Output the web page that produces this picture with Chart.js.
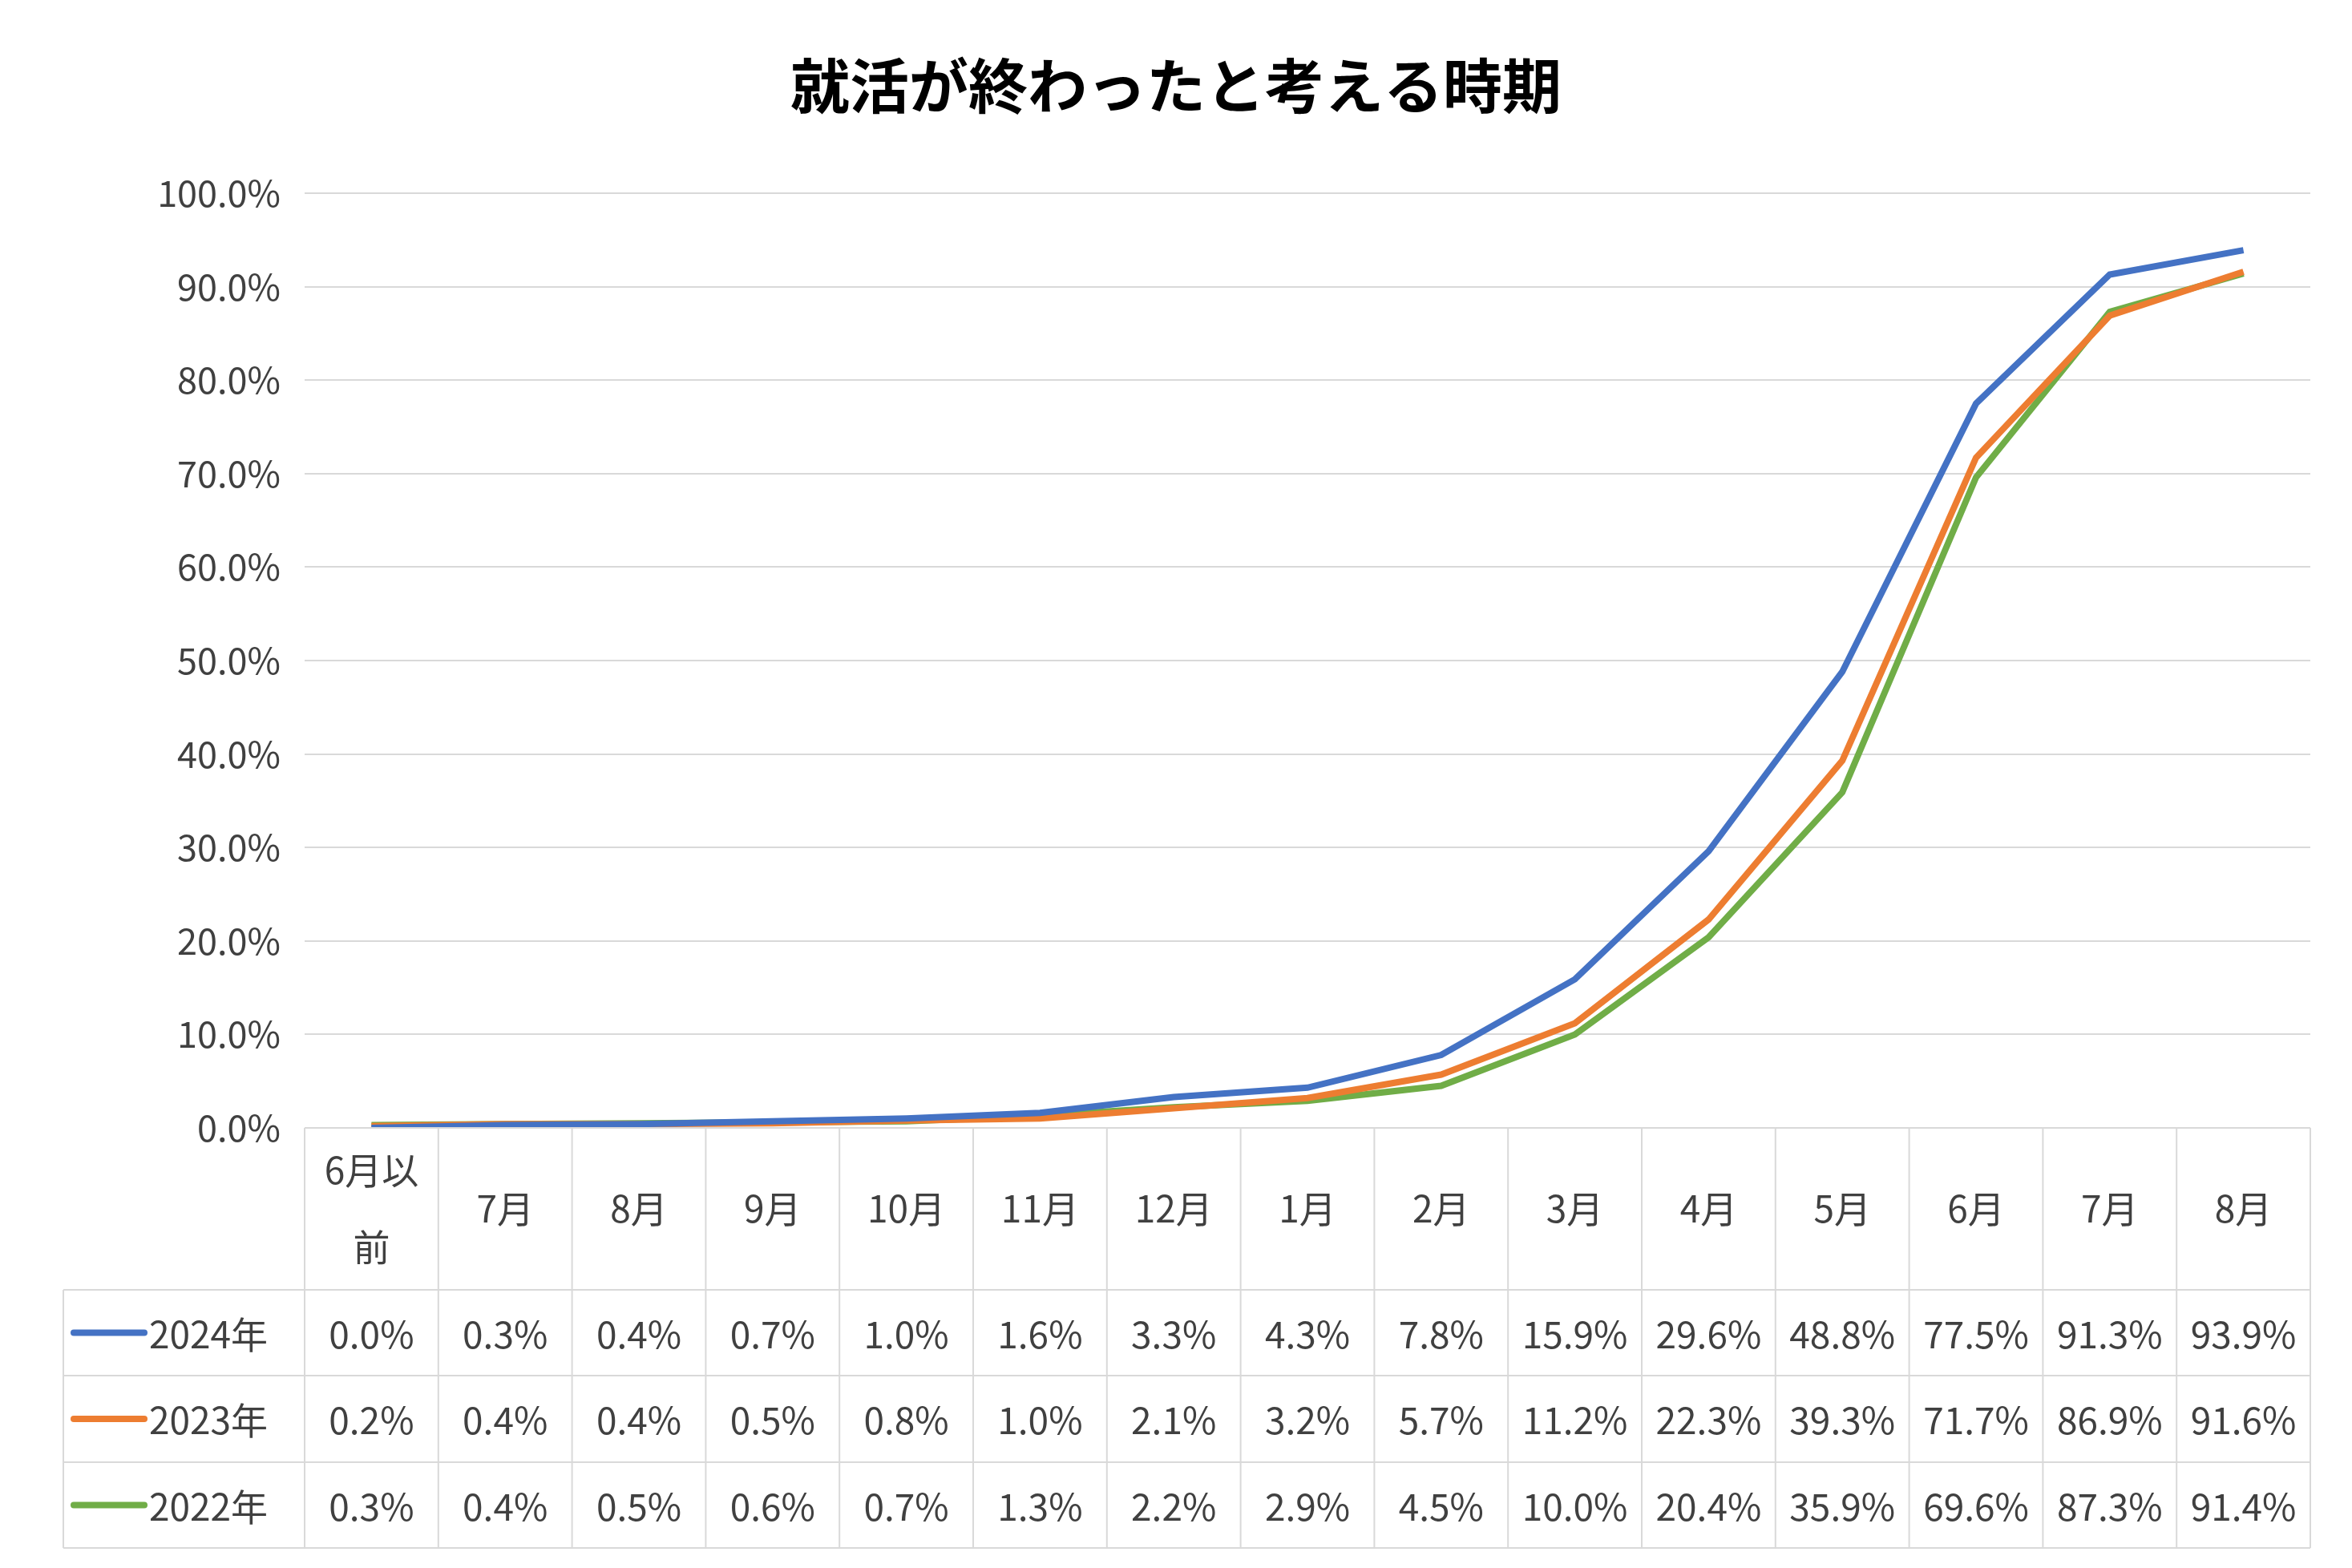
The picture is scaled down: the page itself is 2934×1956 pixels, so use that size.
<!DOCTYPE html>
<html><head><meta charset="utf-8">
<script src="https://cdn.jsdelivr.net/npm/chart.js@4/dist/chart.umd.min.js"></script>
<style>html,body{margin:0;padding:0;background:#fff}#c{display:block}</style>
</head><body>
<canvas id="c" width="2934" height="1956" style="width:2934px;height:1956px"></canvas>
<script>
const title = '就活が終わったと考える時期';
const categories = [['6月以','前'],'7月','8月','9月','10月','11月','12月','1月','2月','3月','4月','5月','6月','7月','8月'];
const seriesNames = ['2024年','2023年','2022年'];
const s2024 = [0.0,0.3,0.4,0.7,1.0,1.6,3.3,4.3,7.8,15.9,29.6,48.8,77.5,91.3,93.9];
const s2023 = [0.2,0.4,0.4,0.5,0.8,1.0,2.1,3.2,5.7,11.2,22.3,39.3,71.7,86.9,91.6];
const s2022 = [0.3,0.4,0.5,0.6,0.7,1.3,2.2,2.9,4.5,10.0,20.4,35.9,69.6,87.3,91.4];
const colors = ['#4472C4','#ED7D31','#70AD47'];
const FONT = '"Noto Sans CJK JP","Noto Sans",sans-serif';
const allSeries = [s2024,s2023,s2022];

const tablePlugin = {
  id:'table',
  afterDraw(chart){
    const ctx = chart.ctx, xs = chart.scales.x, ca = chart.chartArea;
    const rowsY = [ca.bottom, 1609, 1716, 1824, 1931];
    const leftX = 79;
    const n = categories.length;
    const step = xs.getPixelForValue(1) - xs.getPixelForValue(0);
    const bounds = [];
    for (let i=0;i<=n;i++) bounds.push(xs.getPixelForValue(i) - step/2);
    ctx.save();
    ctx.strokeStyle = '#d9d9d9'; ctx.lineWidth = 2;
    ctx.beginPath();
    ctx.moveTo(bounds[0], rowsY[0]); ctx.lineTo(bounds[n], rowsY[0]);
    for (let r=1;r<rowsY.length;r++){ ctx.moveTo(leftX, rowsY[r]); ctx.lineTo(bounds[n], rowsY[r]); }
    for (let i=0;i<=n;i++){ ctx.moveTo(bounds[i], rowsY[0]); ctx.lineTo(bounds[i], rowsY[4]); }
    ctx.moveTo(leftX, rowsY[1]); ctx.lineTo(leftX, rowsY[4]);
    ctx.stroke();
    ctx.fillStyle = '#404040';
    ctx.font = '46px ' + FONT;
    ctx.textAlign = 'center'; ctx.textBaseline = 'middle';
    for (let i=0;i<n;i++){
      const cx = xs.getPixelForValue(i);
      const lab = categories[i];
      const my = (rowsY[0]+rowsY[1])/2;
      if (Array.isArray(lab)) { ctx.fillText(lab[0], cx, my-48); ctx.fillText(lab[1], cx, my+48); }
      else ctx.fillText(lab, cx, my);
      for (let s=0;s<3;s++){
        ctx.fillText(allSeries[s][i].toFixed(1)+'%', cx, (rowsY[s+1]+rowsY[s+2])/2+2);
      }
    }
    for (let s=0;s<3;s++){
      const my = (rowsY[s+1]+rowsY[s+2])/2;
      ctx.strokeStyle = colors[s]; ctx.lineWidth = 8; ctx.lineCap='round';
      ctx.beginPath(); ctx.moveTo(92, my); ctx.lineTo(180, my); ctx.stroke();
      ctx.textAlign='left'; ctx.fillText(seriesNames[s], 186, my+2); ctx.textAlign='center';
    }
    ctx.fillStyle = '#000'; ctx.font = 'bold 74px ' + FONT;
    ctx.fillText(title, 1467, 107);
    ctx.restore();
  }
};

new Chart(document.getElementById('c'), {
  type:'line',
  data:{ labels: categories.map(c=>Array.isArray(c)?c.join(''):c),
    datasets: allSeries.map((d,i)=>({label:seriesNames[i], data:d, borderColor:colors[i], backgroundColor:colors[i], borderWidth:8, pointRadius:0, tension:0})) },
  options:{
    responsive:false, animation:false, devicePixelRatio:1,
    layout:{padding:{left:0,right:52,top:241,bottom:549}},
    plugins:{legend:{display:false},tooltip:{enabled:false},title:{display:false}},
    scales:{
      x:{display:false, offset:true},
      y:{min:0,max:100, afterFit(s){s.width=380;},
        ticks:{stepSize:10, color:'#404040', font:{size:45, family:FONT}, padding:30, callback:v=>v.toFixed(1)+'%'},
        grid:{color:'#d9d9d9', lineWidth:2, drawTicks:false}, border:{display:false}}
    }
  },
  plugins:[tablePlugin]
});
</script>
</body></html>
